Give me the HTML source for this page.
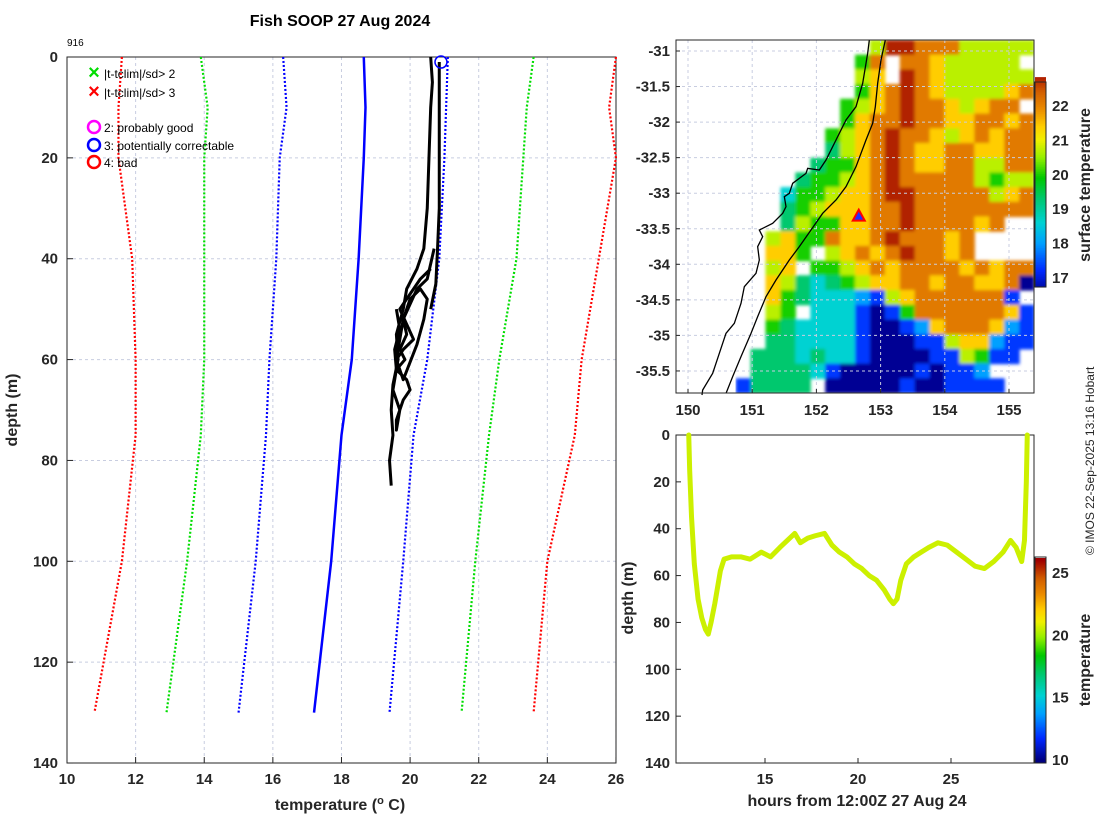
<!DOCTYPE html>
<html><head><meta charset="utf-8"><style>
body{margin:0;background:#fff;}
svg{display:block;font-family:"Liberation Sans","DejaVu Sans",sans-serif;}
.tk{font-size:15px;font-weight:bold;fill:#262626;}
.lb{font-size:16px;font-weight:bold;fill:#262626;}
</style></head><body>
<svg id="s" width="1100" height="820" viewBox="0 0 1100 820" xmlns="http://www.w3.org/2000/svg">
<defs><filter id="bl" x="0" y="0" width="1" height="1"><feGaussianBlur stdDeviation="1.6"/></filter>
<clipPath id="mc"><rect x="676" y="40" width="358" height="353"/></clipPath></defs>
<text x="340" y="26" text-anchor="middle" style="font-size:16px;font-weight:bold" fill="#000">Fish SOOP 27 Aug 2024</text>
<text x="67" y="46" style="font-size:10px" fill="#000">916</text>
<g id="left"></g>
<g id="map"></g>
<g id="track"></g>
<text transform="translate(1094,555) rotate(-90)" style="font-size:12px" fill="#262626">© IMOS 22-Sep-2025 13:16 Hobart</text>
</svg>
<script>
// ---------- profile data ----------
const climDepths=[0,10,20,40,60,75,100,130];
const redLo=[11.6,11.5,11.5,11.9,12.0,12.0,11.6,10.8];
const grnLo=[13.9,14.1,14.0,14.0,14.0,13.9,13.5,12.9];
const bluLo=[16.3,16.4,16.2,16.1,15.9,15.8,15.5,15.0];
const meanT=[18.65,18.7,18.65,18.5,18.3,18.0,17.7,17.2];
const bluHi=[21.1,21.05,21.0,20.85,20.5,20.1,19.8,19.4];
const grnHi=[23.6,23.4,23.3,23.1,22.6,22.3,21.9,21.5];
const redHi=[26.0,25.8,26.0,25.5,25.0,24.8,24.0,23.6];
const prof1T=[20.85,20.85,20.85,20.85,20.8,20.75,20.6];
const prof1D=[1,10,20,30,38,45,50];
const prof2T=[20.6,20.65,20.6,20.55,20.5,20.4,20.2,19.9,19.8,19.6,19.65,19.5,19.45,19.5,19.4,19.45];
const prof2D=[0,5,10,20,30,38,42,46,50,55,60,65,70,75,80,85];
const prof3T=[20.7,20.5,20.2,20.0,19.8,19.9,19.7,19.85,19.6,19.9,20.0,19.8,19.7,19.6,19.6,19.7,19.5,19.6,19.55,19.7,19.6];
const prof3D=[38,44,46,49,52,55,58,60,62,64,66,68,70,72,74,70,66,62,58,54,50];
const prof4T=[20.6,20.3,20.0,19.7,19.9,20.1,19.8,19.6,19.8,20.2,20.4,20.5,20.3,20.0,19.8,19.7,19.6];
const prof4D=[42,44,47,50,53,56,58,60,64,57,52,48,46,48,52,56,60];
const xTicks=[10,12,14,16,18,20,22,24,26];
const yTicks=[0,20,40,60,80,100,120,140];
// ---------- map data (codes 0-9, '.'=no data) ----------
const mapRows=[
"............."+"69988866666",
"............5"+"8.88766666",
"............6"+"7.9876666666",
"............57"+"8987666678",
"...........567"+"898876788",
"...........578"+"8988778878",
"..........5678"+"9887678788",
"..........4678"+"9877887788",
".........45578"+"9877886688",
"........455678"+"988888656688",
".......3556778"+"99888886788",
".......4567778"+"89888888888",
".......4655778"+"89888878.",
"......675587"+"78988878.",
"......775.678"+"7898878.",
"......67.5567"+"87888878788",
"......7643456"+"77887887780",
"......754333216"+"78888881",
"......65.3331015"+"88888871",
"......54333310012"+"7888721",
"......44333310001"+"1677211",
".....44434331000011"+"6511.",
".....444431000001011"+"2..",
"....14444.000001001111.."
];
const tempCodes=[16.6,17.3,18.0,18.6,19.3,20.0,20.7,21.4,22.1,22.8];
const cbTicks=[17,18,19,20,21,22];
const mapXTicks=[150,151,152,153,154,155];
const mapYTicks=[-31,-31.5,-32,-32.5,-33,-33.5,-34,-34.5,-35,-35.5];
const shipLon=[152.66], shipLat=[-33.33];
// ---------- track data ----------
const trkH=[10.9,10.95,11.05,11.2,11.4,11.6,11.8,11.95,12.1,12.3,12.45,12.6,12.8,13.2,13.7,14.2,14.8,15.3,15.8,16.2,16.6,16.9,17.3,17.7,18.2,18.6,19.0,19.4,19.8,20.2,20.6,21.0,21.4,21.7,21.9,22.1,22.3,22.6,23.0,23.4,23.8,24.3,24.8,25.3,25.8,26.3,26.8,27.3,27.8,28.2,28.5,28.8,28.95,29.05,29.1];
const trkD=[0,15,35,55,70,78,83,85,80,72,65,58,53,52,52,53,50,52,48,45,42,46,44,43,42,47,50,52,55,57,60,62,66,70,72,70,62,55,52,50,48,46,47,50,53,56,57,54,50,45,48,54,45,20,0];
const trkTemp=20.8;
const bTicksX=[15,20,25], bTicksY=[0,20,40,60,80,100,120,140], cb2Ticks=[10,15,20,25];

const NS="http://www.w3.org/2000/svg";
function mk(tag,attrs,parent,name){const e=document.createElementNS(NS,tag);for(const k in attrs)e.setAttribute(k,attrs[k]);parent.appendChild(e);


return e;}
function txt(parent,x,y,s,anchor,cls,name){const t=mk('text',{x:x,y:y,'text-anchor':anchor,class:cls},parent,name);t.textContent=s;return t;}
const cStops=[[16.5,[0,0,130]],[17.2,[0,40,255]],[18.0,[0,160,255]],[18.6,[0,210,210]],[19.3,[0,200,110]],[19.9,[0,200,0]],[20.5,[150,240,0]],[21.0,[240,240,0]],[21.4,[255,205,0]],[21.9,[235,140,0]],[22.4,[210,95,0]],[23.0,[160,0,0]]];
function col(t){if(t<=cStops[0][0])return 'rgb('+cStops[0][1]+')';for(let i=1;i<cStops.length;i++){if(t<=cStops[i][0]){const a=cStops[i-1],b=cStops[i],f=(t-a[0])/(b[0]-a[0]);return 'rgb('+a[1].map((v,k)=>Math.round(v+(b[1][k]-v)*f)).join(',')+')';}}return 'rgb('+cStops[cStops.length-1][1]+')';}

// ---------- LEFT ----------
const L=document.getElementById('left');
const lx=t=>67+(t-10)*34.31, ly=d=>57+d*5.043;
xTicks.forEach(t=>{mk('line',{x1:lx(t),x2:lx(t),y1:57,y2:763,stroke:'#c8cde0','stroke-dasharray':'3,3','stroke-width':1},L,'x-grid-line');});
yTicks.forEach(d=>{mk('line',{x1:67,x2:616,y1:ly(d),y2:ly(d),stroke:'#c8cde0','stroke-dasharray':'3,3','stroke-width':1},L,'y-grid-line');});
mk('rect',{x:67,y:57,width:549,height:706,fill:'none',stroke:'#262626','stroke-width':1},L,'plot-frame');
xTicks.forEach(t=>{mk('line',{x1:lx(t),x2:lx(t),y1:763,y2:757,stroke:'#262626'},L,'x-tick');txt(L,lx(t),784,t,'middle','tk','x-tick-label');});
yTicks.forEach(d=>{mk('line',{x1:67,x2:73,y1:ly(d),y2:ly(d),stroke:'#262626'},L,'y-tick');txt(L,58,ly(d)+5,d,'end','tk','y-tick-label');});
function line(g,T,D,fx,fy,style,name){mk('polyline',Object.assign({points:T.map((t,i)=>fx(t)+','+fy(D[i])).join(' '),fill:'none'},style),g,name);}
const dot={'stroke-dasharray':'2,2','stroke-width':2.2};
line(L,redLo,climDepths,lx,ly,Object.assign({stroke:'#ff0000'},dot),'clim-minus-3sd');
line(L,grnLo,climDepths,lx,ly,Object.assign({stroke:'#00dd00'},dot),'clim-minus-2sd');
line(L,bluLo,climDepths,lx,ly,Object.assign({stroke:'#0000ff'},dot),'clim-minus-1sd');
line(L,meanT,climDepths,lx,ly,{stroke:'#0000ff','stroke-width':2.5},'clim-mean');
line(L,bluHi,climDepths,lx,ly,Object.assign({stroke:'#0000ff'},dot),'clim-plus-1sd');
line(L,grnHi,climDepths,lx,ly,Object.assign({stroke:'#00dd00'},dot),'clim-plus-2sd');
line(L,redHi,climDepths,lx,ly,Object.assign({stroke:'#ff0000'},dot),'clim-plus-3sd');
[[prof1T,prof1D],[prof2T,prof2D],[prof3T,prof3D],[prof4T,prof4D]].forEach(p=>line(L,p[0],p[1],lx,ly,{stroke:'#000','stroke-width':3,'stroke-linejoin':'round'},'temperature-profile'));
mk('circle',{cx:lx(20.9),cy:ly(1),r:6,fill:'none',stroke:'#0000ff','stroke-width':1.5},L,'qc-flag-marker');
txt(L,340,810,'temperature (','middle','lb','x-axis-title').innerHTML='temperature (<tspan dy="-6" style="font-size:11px">o</tspan><tspan dy="6"> C)</tspan>';
const yt=txt(L,0,0,'depth (m)','middle','lb','y-axis-title');yt.setAttribute('transform','translate(17,410) rotate(-90)');
const leg=[['×','#00dd00','|t-tclim|/sd> 2',74],['×','#ff0000','|t-tclim|/sd> 3',93],['○','#ff00ff','2: probably good',128],['○','#0000ff','3: potentially correctable',146],['○','#ff0000','4: bad',163]];
leg.forEach(l=>{const g=mk('g',{},L,'legend-entry');
if(l[0]==='×'){txt(g,94,l[3]+5,'×','middle','','legend-marker').setAttribute('style','font-size:20px;font-weight:bold;fill:'+l[1]);}
else mk('circle',{cx:94,cy:l[3]-1,r:6,fill:'none',stroke:l[1],'stroke-width':2.5},g,'legend-marker');
txt(g,104,l[3]+4,l[2],'start','','legend-label').setAttribute('style','font-size:12px;fill:#000');});

// ---------- MAP ----------
const M=document.getElementById('map');
const mx0=676,mx1=1034,my0=40,my1=393;
const mX=lon=>688+(lon-150)*64.2, mY=lat=>51+(-31-lat)*71.1;
const nR=mapRows.length,nC=24,cw=(mx1-mx0)/nC,ch=(my1-my0)/nR;
const cells=mk('g',{filter:'url(#bl)','clip-path':'url(#mc)'},M,'sst-field');
mapRows.forEach((r,i)=>{for(let j=0;j<nC;j++){const c=r[j];if(c===undefined||c==='.')continue;
mk('rect',{x:(mx0+j*cw).toFixed(1),y:(my0+i*ch).toFixed(1),width:(cw+0.6).toFixed(1),height:(ch+0.6).toFixed(1),fill:col(tempCodes[+c])},cells,'sst-cell');}});
mapXTicks.forEach(v=>{mk('line',{x1:mX(v),x2:mX(v),y1:my0,y2:my1,stroke:'#c8cde0','stroke-dasharray':'3,3'},M,'map-grid-line');txt(M,mX(v),415,v,'middle','tk','lon-tick-label');mk('line',{x1:mX(v),x2:mX(v),y1:my1,y2:my1-4,stroke:'#262626'},M,'lon-tick');});
mapYTicks.forEach(v=>{mk('line',{x1:mx0,x2:mx1,y1:mY(v),y2:mY(v),stroke:'#c8cde0','stroke-dasharray':'3,3'},M,'map-grid-line');txt(M,670,mY(v)+5,v,'end','tk','lat-tick-label');mk('line',{x1:mx0,x2:mx0+4,y1:mY(v),y2:mY(v),stroke:'#262626'},M,'lat-tick');});
const coastZ=[[580,0],[575,40],[560,130],[540,200],[510,240],[490,280],[480,300],[470,320],[450,360],[430,390],[395,385],[390,400],[350,430],[340,460],[325,470],[330,500],[320,520],[290,550],[250,570],[260,590],[245,620],[250,660],[240,700],[205,740],[195,790],[185,820],[175,850],[150,880],[130,940],[110,1000],[80,1050],[78,1065]];
const shelfZ=[[628,0],[615,60],[605,130],[598,200],[590,250],[570,300],[540,380],[510,440],[480,480],[440,520],[405,570],[370,620],[340,660],[300,720],[270,770],[245,830],[225,880],[195,950],[170,1010],[150,1060]];
mk('polyline',{points:coastZ.map(p=>(mx0+p[0]/3)+','+(my0+p[1]/3)).join(' '),fill:'none',stroke:'#000','stroke-width':1.3},M,'coastline');
mk('polyline',{points:shelfZ.map(p=>(mx0+p[0]/3)+','+(my0+p[1]/3)).join(' '),fill:'none',stroke:'#000','stroke-width':1.3},M,'isobath-200m');
shipLon.forEach((lo,i)=>{const x=mX(lo),y=mY(shipLat[i]);mk('polygon',{points:`${x},${y-7} ${x-6},${y+4} ${x+6},${y+4}`,fill:'#2030ff',stroke:'#ff0000','stroke-width':2},M,'ship-position');});
mk('rect',{x:mx0,y:my0,width:mx1-mx0,height:my1-my0,fill:'none',stroke:'#262626'},M,'map-frame');
const cbY=v=>278-(v-17)*34.4;
for(let v=16.74;v<22.8;v+=0.05){mk('rect',{x:1035,y:cbY(v+0.05),width:11,height:34.4*0.05+0.6,fill:col(v)},M,'colorbar-segment');}
mk('rect',{x:1035,y:82,width:11,height:205,fill:'none',stroke:'#262626'},M,'colorbar-frame');
cbTicks.forEach(v=>{txt(M,1052,cbY(v)+5,v,'start','tk','colorbar-tick-label');});
const ct=txt(M,0,0,'surface temperature','middle','lb','colorbar-title');ct.setAttribute('transform','translate(1090,185) rotate(-90)');

// ---------- TRACK ----------
const B=document.getElementById('track');
const bx=h=>765+(h-15)*18.6, by=d=>435+d*2.343;
mk('rect',{x:676,y:435,width:358,height:328,fill:'none',stroke:'#262626'},B,'track-frame');
bTicksX.forEach(v=>{mk('line',{x1:bx(v),x2:bx(v),y1:763,y2:758,stroke:'#262626'},B,'x-tick');txt(B,bx(v),784,v,'middle','tk','x-tick-label');});
bTicksY.forEach(v=>{mk('line',{x1:676,x2:681,y1:by(v),y2:by(v),stroke:'#262626'},B,'y-tick');txt(B,670,by(v)+5,v,'end','tk','y-tick-label');});
mk('polyline',{points:trkH.map((h,i)=>bx(h)+','+by(trkD[i])).join(' '),fill:'none',stroke:col(trkTemp),'stroke-width':5,'stroke-linejoin':'round','stroke-linecap':'round'},B,'depth-track');
txt(B,857,806,'hours from 12:00Z 27 Aug 24','middle','lb','x-axis-title');
const by2=txt(B,0,0,'depth (m)','middle','lb','y-axis-title');by2.setAttribute('transform','translate(633,598) rotate(-90)');
const c2=v=>760-(v-10)*12.47;
for(let v=9.8;v<26.2;v+=0.1){mk('rect',{x:1035,y:c2(v+0.1),width:11,height:1.9,fill:col(16.5+(v-10)*6.5/16)},B,'colorbar-segment');}
mk('rect',{x:1035,y:557,width:11,height:206,fill:'none',stroke:'#262626'},B,'colorbar-frame');
cb2Ticks.forEach(v=>txt(B,1052,c2(v)+5,v,'start','tk','colorbar-tick-label'));
const c2t=txt(B,0,0,'temperature','middle','lb','colorbar-title');c2t.setAttribute('transform','translate(1090,660) rotate(-90)');
</script>
</body></html>
